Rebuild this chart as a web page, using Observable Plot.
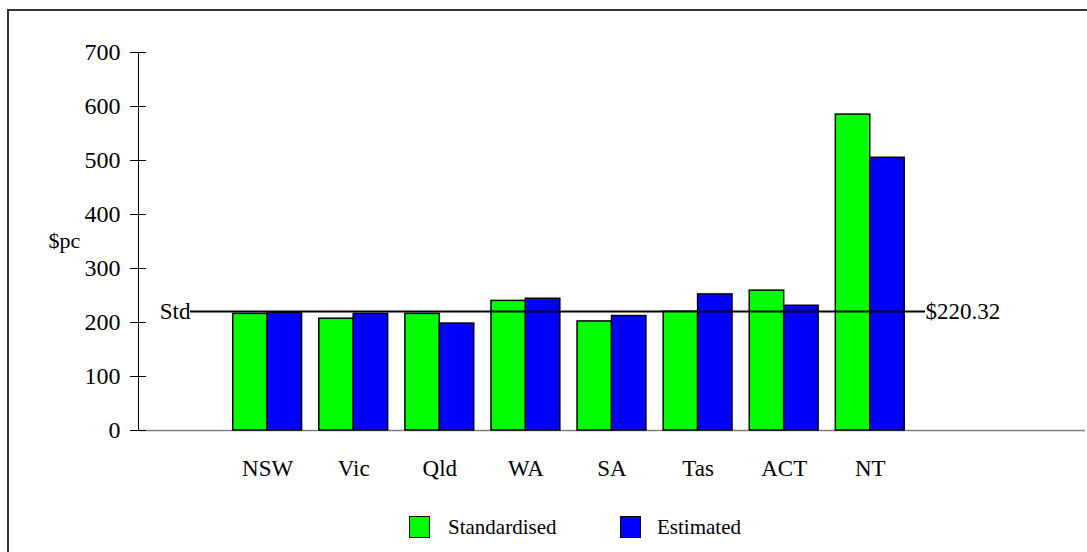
<!DOCTYPE html>
<html>
<head>
<meta charset="utf-8">
<script src="https://cdn.jsdelivr.net/npm/d3@7"></script>
<script src="https://cdn.jsdelivr.net/npm/@observablehq/plot@0.6"></script>
<style>
  html, body { margin: 0; padding: 0; background: #fff; }
  body { width: 1087px; height: 552px; position: relative; overflow: hidden;
         font-family: "Liberation Serif", "Times New Roman", serif; color: #000; }
  #frame { position: absolute; left: 7px; top: 9px; width: 1200px; height: 700px;
           border: 2px solid #333; box-sizing: border-box; }
  #chart { position: absolute; left: 0; top: 0; }
  #legend { position: absolute; left: 0; top: 490px; width: 1087px; height: 62px; }
  .sw { position: absolute; top: 26px; width: 21px; height: 22px; box-sizing: border-box;
        border: 1.5px solid #000; }
  .lab { position: absolute; top: 24px; font-size: 21px; line-height: 26px; white-space: nowrap; }
</style>
</head>
<body>
<div id="frame"></div>
<div id="chart"></div>
<div id="legend"></div>
<script>
// ---- data ----
const states = ["NSW", "Vic", "Qld", "WA", "SA", "Tas", "ACT", "NT"];
const standardised = [216, 207, 216, 240, 202, 220, 259, 585];
const estimated = [218, 216, 198, 244, 212, 252, 231, 505];
const stdValue = 220.32;
const stdLabel = "Std";
const yTicks = [0, 100, 200, 300, 400, 500, 600, 700];
const yLabel = "$pc";
const seriesNames = ["Standardised", "Estimated"];
const seriesColors = ["#00ff00", "#0000ff"];

// ---- layout ----
const W = 1087, H = 490, mL = 138, mR = 2, mT = 52, mB = 60;
const slots = ["", ...states, " ", "  "];
const step = (W - mL - mR) / slots.length;

const chart = Plot.plot({
  width: W, height: H,
  marginLeft: mL, marginRight: mR, marginTop: mT, marginBottom: mB,
  style: { fontFamily: "Liberation Serif, Times New Roman, serif", fontSize: "24px", color: "#000", background: "transparent" },
  x: { type: "band", domain: slots, padding: 0, round: false, axis: null },
  y: { domain: [0, 700], axis: null },
  marks: [
    Plot.ruleY([0], { stroke: "#808080", strokeWidth: 1.5 }),
    Plot.barY(states, { x: d => d, y: (d, i) => standardised[i], fill: seriesColors[0],
      stroke: "#000", strokeWidth: 1.5, insetLeft: step * 0.1, insetRight: step * 0.5 }),
    Plot.barY(states, { x: d => d, y: (d, i) => estimated[i], fill: seriesColors[1],
      stroke: "#000", strokeWidth: 1.5, insetLeft: step * 0.5, insetRight: step * 0.1 }),
    Plot.ruleY([stdValue], { stroke: "#000", strokeWidth: 2, insetLeft: 52, insetRight: 160 }),
    Plot.text([stdValue], { y: d => d, text: () => stdLabel, frameAnchor: "left", textAnchor: "end",
      lineAnchor: "middle", dx: 52, fontSize: 23 }),
    Plot.text([stdValue], { y: d => d, text: d => "$" + d3.format(".2f")(d), frameAnchor: "right",
      textAnchor: "start", lineAnchor: "middle", dx: -160, fontSize: 23 }),
    Plot.text([yLabel], { text: d => d, frameAnchor: "top-left", textAnchor: "start",
      lineAnchor: "middle", dx: -90, dy: 188, fontSize: 22 }),
    Plot.frame({ anchor: "left", stroke: "#000" }),
    Plot.axisY({ ticks: yTicks, tickSize: 16, dx: 8, tickPadding: 10, fontSize: 24, stroke: "#000" }),
    Plot.axisX({ ticks: states, tickSize: 0, tickPadding: 29, fontSize: 23 })
  ]
});
document.getElementById("chart").appendChild(chart);

// ---- legend ----
const legend = document.getElementById("legend");
const swX = [409, 620], labX = [448, 657];
seriesNames.forEach((name, i) => {
  const sw = document.createElement("div");
  sw.className = "sw";
  sw.style.left = swX[i] + "px";
  sw.style.background = seriesColors[i];
  legend.appendChild(sw);
  const lb = document.createElement("div");
  lb.className = "lab";
  lb.style.left = labX[i] + "px";
  lb.textContent = name;
  legend.appendChild(lb);
});
</script>
</body>
</html>
